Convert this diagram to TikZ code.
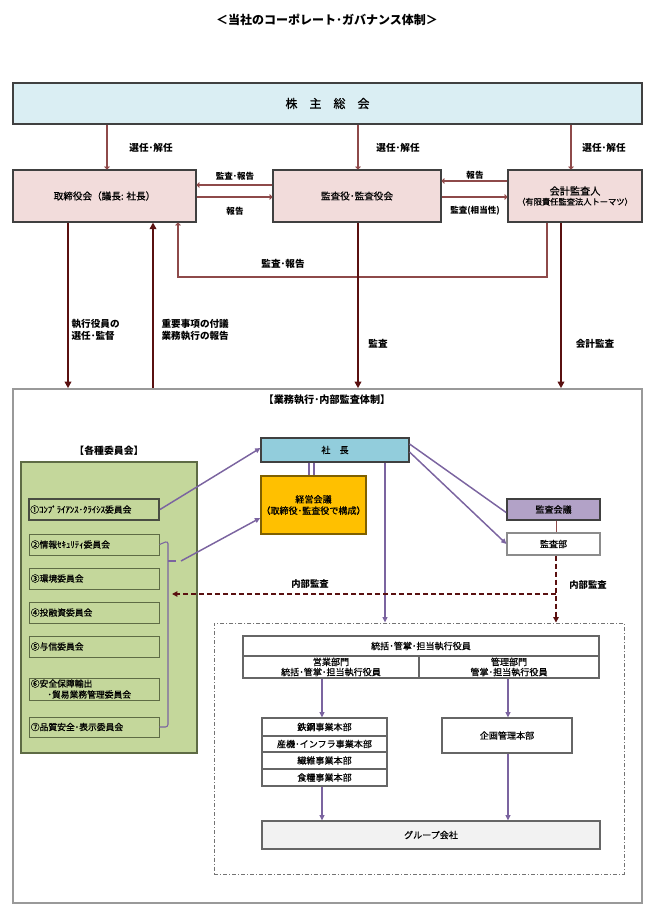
\documentclass[tikz,border=0pt]{standalone}
\usepackage{fontspec}
\setmainfont{Noto Sans CJK JP}
\newfontfamily\medfont{Noto Sans CJK JP}[FakeBold=0.6]
\usetikzlibrary{fit,arrows.meta,calc}
\definecolor{shc}{HTML}{DAEEF3}
\definecolor{pinkc}{HTML}{F2DCDB}
\definecolor{greenc}{HTML}{C4D79B}
\definecolor{greenb}{HTML}{5E6B45}
\definecolor{presc}{HTML}{92CDDC}
\definecolor{orgc}{HTML}{FFC000}
\definecolor{orgb}{HTML}{7F6000}
\definecolor{lavc}{HTML}{B2A2C7}
\definecolor{grayf}{HTML}{F2F2F2}
\definecolor{thinc}{HTML}{8E4A4A}
\definecolor{thickc}{HTML}{5A1010}
\definecolor{purc}{HTML}{7B64A0}
\definecolor{edgec}{HTML}{404040}
\begin{document}
\begin{tikzpicture}[x=0.75pt,y=-0.75pt,
  box/.style={draw=edgec, line width=0.8pt, inner sep=0pt},
  cbox/.style={draw=greenb, line width=0.7pt, inner sep=0pt},
  txt/.style={inner sep=0pt, align=center, font=\medfont\fontsize{6.8}{8.5}\selectfont},
  ctxt/.style={inner sep=0pt, anchor=west, align=left, font=\medfont\fontsize{6.6}{8.4}\selectfont},
  lbl/.style={font=\bfseries\fontsize{7.2}{9}\selectfont, inner sep=1pt, align=left},
  slbl/.style={font=\bfseries\fontsize{6.4}{8}\selectfont, inner sep=1pt},
  thinarr/.style={draw=thinc, line width=0.8pt, -{To[length=2.5pt,width=4pt]}},
  thickarr/.style={draw=thickc, line width=2pt, -{Triangle[length=5pt,width=5pt]}},
  purarr/.style={draw=purc, line width=1.1pt, -{Triangle[length=4pt,width=3.6pt]}},
  purline/.style={draw=purc, line width=1.1pt},
  dasharr/.style={draw=thickc, line width=1.3pt, dash pattern=on 4pt off 2pt, -{Triangle[length=4pt,width=4pt]}}
]
\useasboundingbox (0,0) rectangle (650,916);
% title
\node[font=\bfseries\fontsize{9}{11}\selectfont] (title) at (327,20) {＜当社のコーポレート･ガバナンス体制＞};
% top boxes
\node[box, fill=shc, fit={(13,83)(642,124)}] (sh) {};
\node[txt, font=\medfont\fontsize{9}{11}\selectfont] (sh-t) at (sh.center) {株　主　総　会};
\node[box, fill=pinkc, fit={(13,170)(196,222)}] (board) {};
\node[txt, font=\medfont\fontsize{7.2}{9}\selectfont] (board-t) at (board.center) {取締役会（議長: 社長）};
\node[box, fill=pinkc, fit={(273,170)(441,222)}] (aud) {};
\node[txt, font=\medfont\fontsize{7.2}{9}\selectfont] (aud-t) at (aud.center) {監査役･監査役会};
\node[box, fill=pinkc, fit={(508,170)(642,222)}] (acc) {};
\node[txt] (acc-t) at (acc.center) {{\fontsize{7.6}{10}\selectfont 会計監査人}\\[-1pt]{\fontsize{6.2}{8}\selectfont（有限責任監査法人トーマツ）}};
% coordinates
\coordinate (xa) at (107,0);
\coordinate (xb) at (358,0);
\coordinate (xc) at (571,0);
\draw[thinarr] (sh.south -| xa) -- (board.north -| xa);
\draw[thinarr] (sh.south -| xb) -- (aud.north -| xb);
\draw[thinarr] (sh.south -| xc) -- (acc.north -| xc);
\node[lbl] (l1) at (151,148) {選任･解任};
\node[lbl] (l2) at (398,148) {選任･解任};
\node[lbl] (l3) at (604,148) {選任･解任};
% between boxes
\coordinate (y1) at (0,185);
\coordinate (y2) at (0,197);
\coordinate (y3) at (0,181);
\draw[thinarr] (aud.west |- y1) -- (board.east |- y1);
\draw[thinarr] (board.east |- y2) -- (aud.west |- y2);
\node[slbl] (l4) at (235,176) {監査･報告};
\node[slbl] (l5) at (235,211) {報告};
\draw[thinarr] (acc.west |- y3) -- (aud.east |- y3);
\draw[thinarr] (aud.east |- y2) -- (acc.west |- y2);
\node[slbl] (l6) at (475,175) {報告};
\node[slbl] (l7) at (475,211) {監査(相当性)};
% return path
\coordinate (r1) at (547,277);
\coordinate (r2) at (178,277);
\draw[thinarr] (acc.south -| r1) -- (r1) -- (r2) -- (board.south -| r2);
\node[lbl] (l8) at (283,264) {監査･報告};
% outer box
\node[draw=black!40, line width=1.2pt, inner sep=0pt, fit={(13,389)(642,903)}] (outer) {};
\node[font=\bfseries\fontsize{7.6}{9}\selectfont] (otitle) at (327,400) {【業務執行･内部監査体制】};
% thick arrows
\coordinate (t1) at (68,0);
\coordinate (t2) at (153,0);
\coordinate (t3) at (358,0);
\coordinate (t4) at (561,0);
\draw[thickarr] (board.south -| t1) -- (outer.north -| t1);
\draw[thickarr] (outer.north -| t2) -- (board.south -| t2);
\draw[thickarr] (aud.south -| t3) -- (outer.north -| t3);
\draw[thickarr] (acc.south -| t4) -- (outer.north -| t4);
\node[lbl, anchor=west] (l9) at (70,330) {執行役員の\\選任･監督};
\node[lbl, anchor=west] (l10) at (160,330) {重要事項の付議\\業務執行の報告};
\node[lbl] (l11) at (378,344) {監査};
\node[lbl] (l12) at (595,344) {会計監査};
% committees
\node[font=\bfseries\fontsize{7.4}{9}\selectfont] (ctitle) at (109,451) {【各種委員会】};
\node[draw=greenb, line width=1.2pt, fill=greenc, inner sep=0pt, fit={(21,462)(197,753)}] (green) {};
\node[cbox, line width=1.5pt, draw=edgec!70!greenb, fit={(29,499)(159,520)}] (c1) {};
\node[ctxt] (c1-t) at ($(c1.west)+(2,0)$) {①ｺﾝﾌﾟﾗｲｱﾝｽ･ｸﾗｲｼｽ委員会};
\node[cbox, fit={(29,534)(159,555)}] (c2) {};
\node[ctxt] (c2-t) at ($(c2.west)+(2,0)$) {②情報ｾｷｭﾘﾃｨ委員会};
\node[cbox, fit={(29,568)(159,589)}] (c3) {};
\node[ctxt] (c3-t) at ($(c3.west)+(2,0)$) {③環境委員会};
\node[cbox, fit={(29,602)(159,623)}] (c4) {};
\node[ctxt] (c4-t) at ($(c4.west)+(2,0)$) {④投融資委員会};
\node[cbox, fit={(29,636)(159,657)}] (c5) {};
\node[ctxt] (c5-t) at ($(c5.west)+(2,0)$) {⑤与信委員会};
\node[cbox, fit={(29,678)(159,700)}] (c6) {};
\node[ctxt, font=\medfont\fontsize{6.6}{8.2}\selectfont] (c6-t) at ($(c6.west)+(2,0)$) {⑥安全保障輸出\\\hspace*{1.9em}･貿易業務管理委員会};
\node[cbox, fit={(29,717)(159,737)}] (c7) {};
\node[ctxt] (c7-t) at ($(c7.west)+(2,0)$) {⑦品質安全･表示委員会};
% brace
\coordinate (b1) at (168,561);
\coordinate (b2) at (176,561);
\coordinate (b3) at (181,561);
\draw[purc, line width=0.8pt, rounded corners=2pt] (c2.east) -- (168,541) -- (b1) -- (c7.east -| b1) -- (c7.east);
\draw[purc, line width=0.8pt] (b1) -- (b2);
% president etc.
\node[box, fill=presc, fit={(261,438)(409,462)}] (pres) {};
\node[txt] (pres-t) at (pres.center) {社　長};
\node[box, fill=orgc, draw=orgb, line width=1.2pt, fit={(261,476)(366,534)}] (keiei) {};
\node[txt] (keiei-t) at (keiei.center) {経営会議\\（取締役･監査役で構成）};
\node[box, fill=lavc, draw=edgec, line width=1.3pt, fit={(507,499)(600,520)}] (kaigi) {};
\node[txt] (kaigi-t) at (kaigi.center) {監査会議};
\node[box, fill=white, draw=black!45, fit={(507,533)(600,555)}] (kansa) {};
\node[txt] (kansa-t) at (kansa.center) {監査部};
\coordinate (d1) at (309,0);
\coordinate (d2) at (314,0);
\draw[purline, line width=0.9pt] (pres.south -| d1) -- (keiei.north -| d1);
\draw[purline, line width=0.9pt] (pres.south -| d2) -- (keiei.north -| d2);
\coordinate (pw) at (0,448);
\draw[purarr] (c1.east) -- (pres.west |- pw);
\coordinate (kw) at (0,518);
\draw[purarr] (b3) -- (keiei.west |- kw);
\draw[purline] ($(pres.east)+(0,-6)$) -- ($(kaigi.west)+(0,3)$);
\draw[purarr] ($(pres.east)+(0,2)$) -- (kansa.west);
\coordinate (ka) at (556,0);
\draw[thinc, line width=0.7pt] (kaigi.south -| ka) -- (kansa.north -| ka);
% dashed group box
\node[draw=black!55, line width=0.7pt, dash pattern=on 3pt off 1.5pt on 0.8pt off 1.5pt, inner sep=0pt, fit={(214,623)(624,874)}] (grp) {};
\coordinate (pv) at (385,0);
\draw[purarr] (pres.south -| pv) -- (grp.north -| pv);
\coordinate (dh) at (556,594);
\coordinate (dl) at (172,594);
\draw[dasharr] (kansa.south -| ka) -- (grp.north -| ka);
\draw[dasharr] (dh) -- (dl);
\node[slbl, font=\bfseries\fontsize{7}{8}\selectfont] (l13) at (310,584) {内部監査};
\node[slbl, font=\bfseries\fontsize{7}{8}\selectfont] (l14) at (588,585) {内部監査};
% executive table
\node[box, draw=black!60, fit={(243,636)(599,656)}] (exec) {};
\node[txt] (exec-t) at (exec.center) {統括･管掌･担当執行役員};
\node[box, draw=black!60, fit={(243,656)(419,678)}] (sales) {};
\node[txt, font=\medfont\fontsize{6.8}{7.6}\selectfont] (sales-t) at (sales.center) {営業部門\\統括･管掌･担当執行役員};
\node[box, draw=black!60, fit={(419,656)(599,678)}] (admin) {};
\node[txt, font=\medfont\fontsize{6.8}{7.6}\selectfont] (admin-t) at (admin.center) {管理部門\\管掌･担当執行役員};
% divisions
\node[box, draw=black!60, fit={(262,718)(387,736)}] (dv1) {};
\node[txt] (dv1-t) at (dv1.center) {鉄鋼事業本部};
\node[box, draw=black!60, fit={(262,736)(387,752)}] (dv2) {};
\node[txt] (dv2-t) at (dv2.center) {産機･インフラ事業本部};
\node[box, draw=black!60, fit={(262,752)(387,769)}] (dv3) {};
\node[txt] (dv3-t) at (dv3.center) {繊維事業本部};
\node[box, draw=black!60, fit={(262,769)(387,786)}] (dv4) {};
\node[txt] (dv4-t) at (dv4.center) {食糧事業本部};
\node[box, draw=black!60, fit={(442,718)(572,753)}] (plan) {};
\node[txt] (plan-t) at (plan.center) {企画管理本部};
\node[box, draw=black!60, fill=grayf, fit={(262,821)(600,849)}] (group) {};
\node[txt] (group-t) at (group.center) {グループ会社};
\coordinate (sx) at (322,0);
\coordinate (ax) at (508,0);
\draw[purarr] (sales.south -| sx) -- (dv1.north -| sx);
\draw[purarr] (admin.south -| ax) -- (plan.north -| ax);
\draw[purarr] (dv4.south -| sx) -- (group.north -| sx);
\draw[purarr] (plan.south -| ax) -- (group.north -| ax);
\end{tikzpicture}
\end{document}
